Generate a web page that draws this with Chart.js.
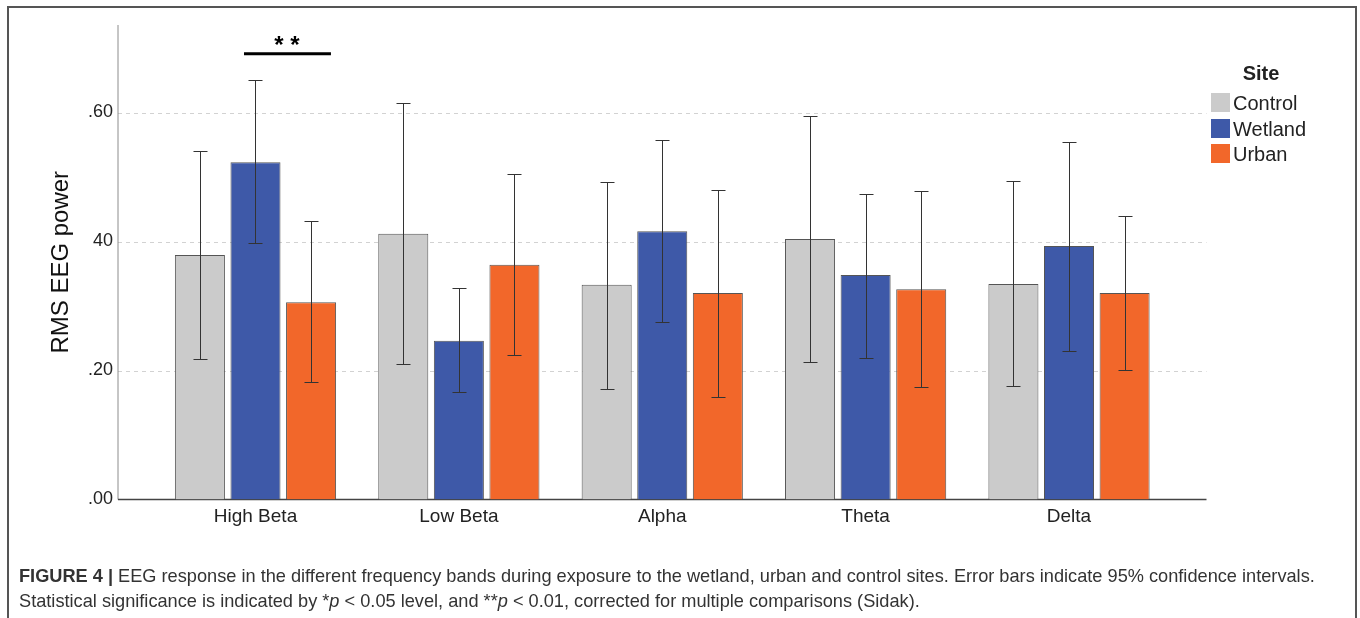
<!DOCTYPE html>
<html>
<head>
<meta charset="utf-8">
<script src="https://cdn.jsdelivr.net/npm/chart.js@4.4.0/dist/chart.umd.min.js"></script>
<style>
body { margin: 0; background: #fff; font-family: "Liberation Sans", Arial, sans-serif; }
#wrap { position: relative; width: 1360px; height: 618px; overflow: hidden; }
#frame { position: absolute; left: 7px; top: 6px; width: 1350px; height: 700px; border: 2px solid #555; box-sizing: border-box; }
canvas { position: absolute; left: 0; top: 0; }
.legend { position: absolute; left: 1211px; font-size: 20px; color: #222; }
.legend .title { position: absolute; left: 0; width: 100px; top: 62px; font-weight: bold; text-align: center; }
.legend .item { position: absolute; left: 0; height: 20px; line-height: 20px; white-space: nowrap; }
.legend .box { display: inline-block; width: 19px; height: 19px; vertical-align: top; margin-right: 3px; }
#caption { position: absolute; left: 19px; top: 564px; font-size: 18.2px; line-height: 25px; color: #333; white-space: nowrap; }
</style>
</head>
<body>
<div id="wrap">
  <canvas id="myChart" width="1360" height="618"></canvas>
  <div id="frame"></div>
  <div class="legend" id="legend" style="top:0"></div>
  <div id="caption">
    <b>FIGURE 4 |</b> EEG response in the different frequency bands during exposure to the wetland, urban and control sites. Error bars indicate 95% confidence intervals.<br>
    Statistical significance is indicated by *<i>p</i> &lt; 0.05 level, and **<i>p</i> &lt; 0.01, corrected for multiple comparisons (Sidak).
  </div>
</div>
<script>
var categories = ['High Beta', 'Low Beta', 'Alpha', 'Theta', 'Delta'];
var sites = ['Control', 'Wetland', 'Urban'];
var colors = ['#cbcbcb', '#3e59a8', '#f2672a'];

var control = [0.379, 0.412, 0.333, 0.404, 0.334];
var controlLow = [0.218, 0.210, 0.172, 0.213, 0.176];
var controlHigh = [0.541, 0.614, 0.493, 0.595, 0.494];

var wetland = [0.523, 0.246, 0.416, 0.348, 0.393];
var wetlandLow = [0.398, 0.167, 0.275, 0.220, 0.230];
var wetlandHigh = [0.651, 0.328, 0.557, 0.474, 0.554];

var urban = [0.306, 0.364, 0.320, 0.326, 0.320];
var urbanLow = [0.182, 0.224, 0.159, 0.174, 0.201];
var urbanHigh = [0.432, 0.505, 0.480, 0.479, 0.440];

var tickValues = [0, 0.2, 0.4, 0.6];
var tickLabels = ['.00', '.20', '40', '.60'];

var lows = [controlLow, wetlandLow, urbanLow];
var highs = [controlHigh, wetlandHigh, urbanHigh];

// legend (html)
var legend = document.getElementById('legend');
legend.innerHTML = '<div class="title">Site</div>';
for (var i = 0; i < sites.length; i++) {
    legend.innerHTML += '<div class="item" style="top:' + (93 + i * 25.5) + 'px"><span class="box" style="background:' + colors[i] + '"></span>' + sites[i] + '</div>';
}

// axis lines, dashed grid lines (they stick out past the bars a bit)
var axesPlugin = {
    id: 'axesPlugin',
    beforeDatasetsDraw: function(chart) {
        var ctx = chart.ctx, x = chart.scales.x, y = chart.scales.y, area = chart.chartArea;
        var step = x.getPixelForValue(1) - x.getPixelForValue(0);
        var left = area.left - step * 0.176, right = area.right + step * 0.176;
        ctx.save();
        ctx.lineWidth = 1;
        ctx.strokeStyle = '#d2d2d2';
        ctx.setLineDash([4, 4]);
        for (var i = 1; i < tickValues.length; i++) {
            var py = Math.round(y.getPixelForValue(tickValues[i])) + 0.5;
            ctx.beginPath(); ctx.moveTo(left, py); ctx.lineTo(right, py); ctx.stroke();
        }
        ctx.setLineDash([]);
        ctx.strokeStyle = '#8c8c8c';
        ctx.beginPath(); ctx.moveTo(left, area.top); ctx.lineTo(left, area.bottom); ctx.stroke();
        ctx.strokeStyle = '#444';
        ctx.lineWidth = 1.5;
        var by = y.getPixelForValue(0);
        ctx.beginPath(); ctx.moveTo(left, by); ctx.lineTo(right, by); ctx.stroke();
        ctx.restore();
    },
    afterDatasetsDraw: function(chart) {
        var ctx = chart.ctx, x = chart.scales.x, y = chart.scales.y;
        ctx.save();
        ctx.strokeStyle = '#333';
        ctx.lineWidth = 1;
        for (var d = 0; d < sites.length; d++) {
            var meta = chart.getDatasetMeta(d);
            for (var j = 0; j < categories.length; j++) {
                var px = Math.round(meta.data[j].x) + 0.5;
                var yl = Math.round(y.getPixelForValue(lows[d][j])) + 0.5;
                var yh = Math.round(y.getPixelForValue(highs[d][j])) + 0.5;
                ctx.beginPath();
                ctx.moveTo(px, yl); ctx.lineTo(px, yh);
                ctx.moveTo(px - 7, yl); ctx.lineTo(px + 7, yl);
                ctx.moveTo(px - 7, yh); ctx.lineTo(px + 7, yh);
                ctx.stroke();
            }
        }
        // significance marker over High Beta
        ctx.strokeStyle = '#000';
        ctx.lineWidth = 3;
        var sy = y.getPixelForValue(0.691);
        ctx.beginPath();
        ctx.moveTo(x.getPixelForValue(-0.0565), sy);
        ctx.lineTo(x.getPixelForValue(0.371), sy);
        ctx.stroke();
        ctx.fillStyle = '#000';
        ctx.font = 'bold 24px "Liberation Sans", Arial, sans-serif';
        ctx.textAlign = 'center';
        ctx.textBaseline = 'middle';
        ctx.fillText('* *', x.getPixelForValue(0.155), y.getPixelForValue(0.702));
        ctx.restore();
    }
};

var ctx = document.getElementById('myChart').getContext('2d');
var myChart = new Chart(ctx, {
    type: 'bar',
    data: {
        labels: categories,
        datasets: [
            { label: sites[0], data: control, backgroundColor: colors[0] },
            { label: sites[1], data: wetland, backgroundColor: colors[1] },
            { label: sites[2], data: urban, backgroundColor: colors[2] }
        ]
    },
    options: {
        responsive: false,
        animation: false,
        layout: { padding: { top: 25, right: 189.3, bottom: 0, left: 0 } },
        datasets: {
            bar: {
                borderColor: '#555',
                borderWidth: 1,
                categoryPercentage: 0.82,
                barPercentage: 0.9
            }
        },
        plugins: {
            legend: { display: false },
            tooltip: { enabled: false }
        },
        scales: {
            x: {
                grid: { display: false, drawTicks: false },
                border: { display: false },
                ticks: { color: '#222', padding: 6, font: { family: 'Liberation Sans', size: 19 } },
                afterFit: function(scale) { scale.height = 118.5; }
            },
            y: {
                min: 0,
                max: 0.7357,
                grid: { display: false, drawTicks: false },
                border: { display: false },
                afterBuildTicks: function(scale) {
                    scale.ticks = tickValues.map(function(v) { return { value: v }; });
                },
                ticks: {
                    color: '#222',
                    padding: 40.8,
                    font: { family: 'Liberation Sans', size: 18 },
                    callback: function(value, index) { return tickLabels[index]; }
                },
                title: {
                    display: true,
                    text: 'RMS EEG power',
                    color: '#111',
                    padding: { top: 47, bottom: 0 },
                    font: { family: 'Liberation Sans', size: 24 }
                },
                afterFit: function(scale) {
                    scale.width = 153.8;
                    // tick padding would otherwise push the plot top down
                    scale.paddingTop = 0;
                    scale.paddingBottom = 0;
                }
            }
        }
    },
    plugins: [axesPlugin]
});
</script>
</body>
</html>
